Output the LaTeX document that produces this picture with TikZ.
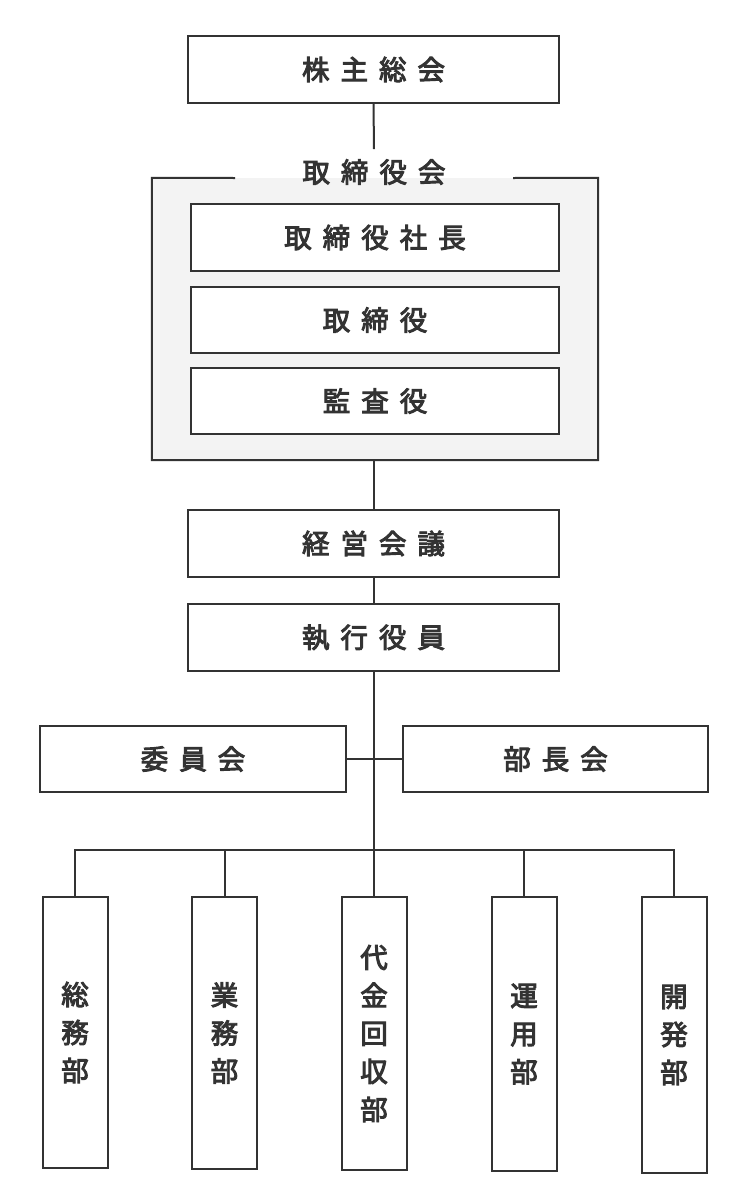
\documentclass[tikz,border=0pt]{standalone}
\usepackage{fontspec}
\newfontfamily\jpfont{Noto Sans CJK JP}[FakeBold=3.5]
\definecolor{ink}{HTML}{333333}
\definecolor{panel}{HTML}{F3F3F3}
\newcommand{\kg}{\hspace{11pt}}
\begin{document}
\begin{tikzpicture}[x=1pt,y=-1pt,
  box/.style={draw=ink, line width=2pt, fill=white, rectangle, inner sep=0pt, text=ink,
    font=\jpfont\fontsize{27.5}{38}\selectfont},
  hbox/.style={box, minimum height=67pt},
  vbox/.style={box, minimum width=65pt, align=center, anchor=north},
  conn/.style={draw=ink, line width=2pt},
  lbl/.style={text=ink, inner xsep=0pt, inner ysep=10pt, font=\jpfont\fontsize{27.5}{38}\selectfont}]
\useasboundingbox[fill=white] (0,0) rectangle (750,1200);

% shareholders
\node[hbox, minimum width=371pt] (agm) at (373.5,69.5) {株\kg 主\kg 総\kg 会};

% board panel
\node[fill=panel, inner sep=0pt, minimum width=446pt, minimum height=282pt] (board) at (375,319) {};
\draw[ink, line width=2pt] (235,178) -- (board.north west) -- (board.south west)
  -- (board.south east) -- (board.north east) -- (513,178);
\node[lbl] (boardlbl) at (374,172) {取\kg 締\kg 役\kg 会};

\node[hbox, minimum width=368pt] (pres) at (375,237.5) {取\kg 締\kg 役\kg 社\kg 長};
\node[hbox, minimum width=368pt, minimum height=66pt] (dir) at (375,320) {取\kg 締\kg 役};
\node[hbox, minimum width=368pt, minimum height=66pt] (aud) at (375,401) {監\kg 査\kg 役};

% management
\node[hbox, minimum width=371pt] (mtg) at (373.5,543.5) {経\kg 営\kg 会\kg 議};
\node[hbox, minimum width=371pt] (exec) at (373.5,637.5) {執\kg 行\kg 役\kg 員};

\node[hbox, minimum width=306pt, minimum height=66pt] (com) at (193,759) {委\kg 員\kg 会};
\node[hbox, minimum width=305pt, minimum height=66pt] (bch) at (555.5,759) {部\kg 長\kg 会};

% departments
\node[vbox, minimum height=271pt] (d1) at (75,896) {総\\務\\部};
\node[vbox, minimum height=272pt] (d2) at (224.5,896) {業\\務\\部};
\node[vbox, minimum height=273pt] (d3) at (374,896) {代\\金\\回\\収\\部};
\node[vbox, minimum height=274pt] (d4) at (524,896) {運\\用\\部};
\node[vbox, minimum height=276pt] (d5) at (674,896) {開\\発\\部};

\coordinate (bus) at (373.5,850);

% connectors
\draw[conn] (agm.south) -- (boardlbl.north);
\draw[conn] (board.south -| mtg.north) -- (mtg.north);
\draw[conn] (mtg.south) -- (exec.north);
\draw[conn] (exec.south) -- (bus);
\draw[conn] (com.east) -- (bch.west);
\draw[conn] (d1.north) -- (d1.north |- bus) -- (d5.north |- bus) -- (d5.north);
\draw[conn] (d2.north) -- (d2.north |- bus);
\draw[conn] (d3.north) -- (d3.north |- bus);
\draw[conn] (d4.north) -- (d4.north |- bus);
\end{tikzpicture}
\end{document}
